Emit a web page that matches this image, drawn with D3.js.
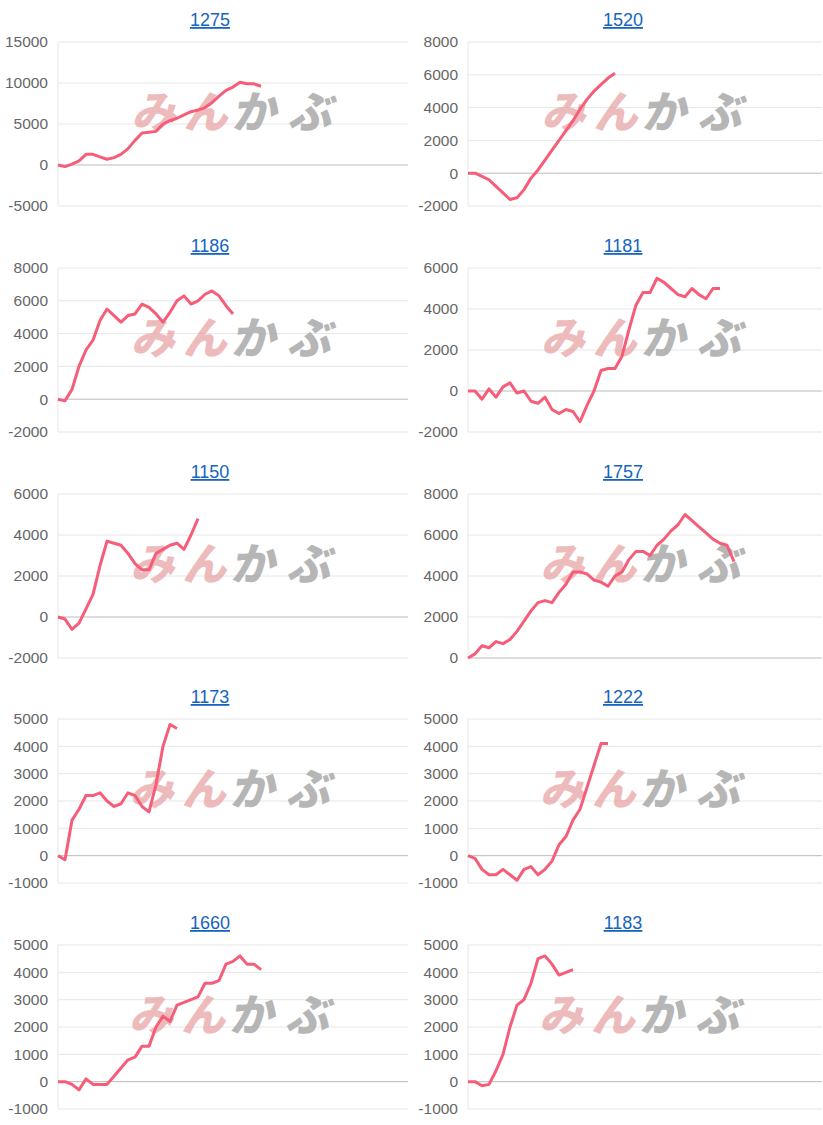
<!DOCTYPE html><html><head><meta charset="utf-8"><script src="https://cdn.jsdelivr.net/npm/d3@7"></script>
<style>body{margin:0;background:#fff}</style></head><body><svg id="c" width="823" height="1125"></svg><script>
const titles=["1275","1520","1186","1181","1150","1757","1173","1222","1660","1183"];
const s1275=[0,-200,100,500,1300,1300,1000,700,900,1300,2000,3000,3900,4000,4100,5000,5400,5700,6100,6500,6700,7000,7600,8400,9100,9500,10100,9900,9900,9600];
const s1520=[0,0,-200,-400,-800,-1200,-1600,-1500,-1000,-300,200,800,1400,2000,2600,3200,3900,4500,5000,5400,5800,6100];
const s1186=[0,-100,600,2000,3000,3600,4800,5500,5100,4700,5100,5200,5800,5600,5200,4700,5300,6000,6300,5800,6000,6400,6600,6300,5700,5200];
const s1181=[0,0,-400,100,-300,200,400,-100,0,-500,-600,-300,-900,-1100,-900,-1000,-1500,-700,0,1000,1100,1100,1700,3000,4200,4800,4800,5500,5300,5000,4700,4600,5000,4700,4500,5000,5000];
const s1150=[0,-100,-600,-300,400,1100,2500,3700,3600,3500,3100,2600,2300,2300,3100,3300,3500,3600,3300,4000,4800];
const s1757=[0,200,600,500,800,700,900,1300,1800,2300,2700,2800,2700,3200,3600,4200,4200,4100,3800,3700,3500,4000,4200,4800,5200,5200,5000,5500,5800,6200,6500,7000,6700,6400,6100,5800,5600,5500,4700];
const s1173=[0,-150,1300,1700,2200,2200,2300,2000,1800,1900,2300,2200,1800,1600,2600,4000,4800,4650];
const s1222=[0,-100,-500,-700,-700,-500,-700,-900,-500,-400,-700,-500,-200,400,700,1300,1700,2500,3300,4100,4100];
const s1660=[0,0,-100,-300,100,-100,-100,-100,200,500,800,900,1300,1300,2000,2400,2200,2800,2900,3000,3100,3600,3600,3700,4300,4400,4600,4300,4300,4100];
const s1183=[0,0,-150,-100,400,1000,2000,2800,3000,3600,4500,4600,4300,3900,4000,4100];
const series=[s1275,s1520,s1186,s1181,s1150,s1757,s1173,s1222,s1660,s1183];
const yDomains=[[-5000,15000],[-2000,8000],[-2000,8000],[-2000,6000],[-2000,6000],[0,8000],[-1000,5000],[-1000,5000],[-1000,5000],[-1000,5000]];
const yStep=[5000,2000,2000,2000,2000,2000,1000,1000,1000,1000];
const svg=d3.select("#c");
const tops=[42,268,494,719,945], H=164;
series.forEach((d,k)=>{
  const col=k%2,row=Math.floor(k/2);
  const x0=col?468:58, x1=col?822:408, top=tops[row];
  const g=svg.append("g");
  const x=d3.scaleLinear().domain([0,50]).range([x0,x0+350]);
  const y=d3.scaleLinear().domain(yDomains[k]).range([top+H,top]);
  const ticks=d3.range(yDomains[k][0],yDomains[k][1]+1,yStep[k]);
  ticks.forEach(t=>{
    g.append("line").attr("x1",x0).attr("x2",x1).attr("y1",y(t)).attr("y2",y(t)).attr("stroke",t===0?"#bbb":"#e6e6e6").attr("stroke-width",1);
    g.append("text").attr("x",x0-10).attr("y",y(t)).attr("dy","0.35em").attr("text-anchor","end").attr("font-family","Arial, Liberation Sans, sans-serif").attr("font-size",15.5).attr("fill","#666").text(t);
  });
  g.append("line").attr("x1",x0).attr("x2",x0).attr("y1",top).attr("y2",top+H).attr("stroke","#e6e6e6");
  const cx=x0+172, cy=top+70;
  g.append("text").attr("x",cx-2).attr("y",cy+16).attr("text-anchor","end").attr("font-family","Noto Sans CJK JP").attr("font-weight",900).attr("font-size",44).attr("fill","#e8a5a5").attr("opacity",0.75).attr("transform",`skewX(-12) translate(${(cy+16)*0.21},0)`).attr("textLength",96).text("みん");
  g.append("text").attr("x",cx+2).attr("y",cy+16).attr("text-anchor","start").attr("font-family","Noto Sans CJK JP").attr("font-weight",900).attr("font-size",44).attr("fill","#aaa").attr("opacity",0.85).attr("transform",`skewX(-12) translate(${(cy+16)*0.21},0)`).attr("textLength",100).text("かぶ");
  g.append("path").datum(d).attr("fill","none").attr("stroke","#f55d79").attr("stroke-width",3).attr("stroke-linejoin","round")
   .attr("d",d3.line().x((v,i)=>x(i)).y(v=>y(v)));
  g.append("text").attr("x",col?623:210).attr("y",top-16).attr("text-anchor","middle").attr("font-family","Arial, Liberation Sans, sans-serif").attr("font-size",18).attr("fill","#1565c0").attr("text-decoration","underline").text(titles[k]);
});
</script></body></html>
